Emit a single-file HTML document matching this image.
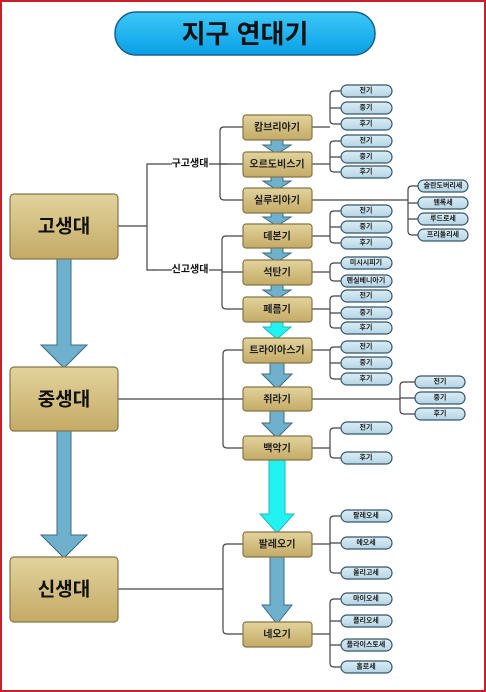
<!DOCTYPE html>
<html><head><meta charset="utf-8"><style>
html,body{margin:0;padding:0;background:#fff}
svg{display:block}
text{font-family:"Liberation Sans","Noto Sans CJK KR",sans-serif;font-weight:bold;text-anchor:middle;dominant-baseline:central}
</style></head><body>
<svg width="486" height="692" viewBox="0 0 486 692" xmlns="http://www.w3.org/2000/svg">
<defs>
<linearGradient id="tan" x1="0" y1="0" x2="0" y2="1"><stop offset="0" stop-color="#e2d39c"/><stop offset="1" stop-color="#c4aa66"/></linearGradient>
<linearGradient id="pill" x1="0" y1="0" x2="0" y2="1"><stop offset="0" stop-color="#dcedf5"/><stop offset="1" stop-color="#b4d4e4"/></linearGradient>
<linearGradient id="title" x1="0" y1="0" x2="0" y2="1"><stop offset="0" stop-color="#3cc8f8"/><stop offset="1" stop-color="#0aa0e6"/></linearGradient>
</defs>
<rect x="1" y="1" width="484" height="690" fill="#fff" stroke="#c8202a" stroke-width="2"/>
<rect x="115" y="12" width="260" height="43" rx="21" fill="url(#title)" stroke="#1a5f8a" stroke-width="1.5"/>
<text x="245" y="34" font-size="26" fill="#111">지구 연대기</text>

<g fill="none" stroke="#444" stroke-width="1.2">
<!-- 고생대 -->
<path d="M118 226H147M154 164H147V270H154M153 164H172M209 164H227"/>
<path d="M153 270H172M209 270H222"/>
<path d="M243 127H224Q220 127 220 131V196Q220 200 224 200H243M220 164H243"/>
<path d="M243 236H226Q222 236 222 240V305Q222 309 226 309H243M222 272H243"/>
<!-- 중생대, 신생대 -->
<path d="M118 399H243M243 350H227Q223 350 223 354V444Q223 448 227 448H243"/>
<path d="M118 589H223M243 544H227Q223 544 223 548V630Q223 634 227 634H243"/>
<!-- period children -->
<path d="M312 127H330M341 91H334Q330 91 330 95V120Q330 124 334 124H341M330 108H341"/>
<path d="M312 164H330M341 141H334Q330 141 330 145V168Q330 172 334 172H341M330 157H341"/>
<path d="M312 200H408M418 186H412Q408 186 408 190V231Q408 235 412 235H418M408 203H418M408 219H418"/>
<path d="M312 236H330M341 211H334Q330 211 330 215V239Q330 243 334 243H341M330 227H341"/>
<path d="M312 272H330M341 263H334Q330 263 330 267V277Q330 281 334 281H341"/>
<path d="M312 309H330M341 296H334Q330 296 330 300V324Q330 328 334 328H341M330 313H341"/>
<path d="M312 350H330M341 347H334Q330 347 330 351V375Q330 379 334 379H341M330 363H341"/>
<path d="M312 399H400M415 382H404Q400 382 400 386V410Q400 414 404 414H415M400 398H415"/>
<path d="M312 448H330M341 428H334Q330 428 330 432V454Q330 458 334 458H341"/>
<path d="M312 544H330M341 516H334Q330 516 330 520V569Q330 573 334 573H341M330 543H341"/>
<path d="M312 634H330M341 599H334Q330 599 330 603V663Q330 667 334 667H341M330 621H341M330 645H341"/>
</g>
<text x="190" y="164" font-size="10" font-weight="normal" fill="#111">구고생대</text>
<text x="190" y="270" font-size="10" font-weight="normal" fill="#111">신고생대</text>

<!-- arrows -->
<g stroke="#3d6b82" stroke-width="1" fill="#6fb0cc">
<path d="M57 258H71V345H87L64 368L41 345H57Z"/>
<path d="M57 430H71V535H87L64 558L41 535H57Z"/>
<path d="M271 139H283V145H291L277 154L263 145H271Z"/>
<path d="M271 176H283V181H291L277 190L263 181H271Z"/>
<path d="M271 212H283V217H291L277 226L263 217H271Z"/>
<path d="M271 247H283V253H291L277 262L263 253H271Z"/>
<path d="M271 284H283V290H291L277 299L263 290H271Z"/>
<path d="M270 362H284V374H292L277 389L262 374H270Z"/>
<path d="M270 410H284V423H292L277 438L262 423H270Z"/>
<path d="M270 556H284V605H292L277 624L262 605H270Z"/>
</g>
<g stroke="#22b8b8" stroke-width="1" fill="#22f2f2">
<path d="M271 321H283V327H291L277 339L263 327H271Z"/>
<path d="M269 459H285V514H294L277 533L260 514H269Z"/>
</g>

<!-- era boxes -->
<g fill="url(#tan)" stroke="#857548" stroke-width="1.2">
<rect x="10" y="194" width="108" height="65" rx="4"/>
<rect x="10" y="367" width="108" height="64" rx="4"/>
<rect x="10" y="557" width="108" height="65" rx="4"/>
</g>
<g font-size="19" fill="#111">
<text x="64" y="227">고생대</text>
<text x="64" y="400">중생대</text>
<text x="64" y="590">신생대</text>
</g>

<!-- period boxes -->
<g fill="url(#tan)" stroke="#857548" stroke-width="1.2">
<rect x="243" y="115" width="69" height="25" rx="3"/>
<rect x="243" y="152" width="69" height="25" rx="3"/>
<rect x="243" y="188" width="69" height="25" rx="3"/>
<rect x="243" y="224" width="69" height="24" rx="3"/>
<rect x="243" y="260" width="69" height="25" rx="3"/>
<rect x="243" y="297" width="69" height="25" rx="3"/>
<rect x="243" y="338" width="69" height="25" rx="3"/>
<rect x="243" y="387" width="69" height="24" rx="3"/>
<rect x="243" y="436" width="69" height="24" rx="3"/>
<rect x="243" y="532" width="69" height="25" rx="3"/>
<rect x="243" y="622" width="69" height="25" rx="3"/>
</g>
<g font-size="10" fill="#222">
<text x="277" y="128">캄브리아기</text>
<text x="277" y="165">오르도비스기</text>
<text x="277" y="201">실루리아기</text>
<text x="277" y="237">데본기</text>
<text x="277" y="273">석탄기</text>
<text x="277" y="310">페름기</text>
<text x="277" y="351">트라이아스기</text>
<text x="277" y="400">쥐라기</text>
<text x="277" y="449">백악기</text>
<text x="277" y="545">팔레오기</text>
<text x="277" y="635">네오기</text>
</g>

<!-- pills -->
<g fill="url(#pill)" stroke="#34556a" stroke-width="1.2">
<rect x="341" y="85" width="51" height="12" rx="6"/><rect x="341" y="102" width="51" height="12" rx="6"/><rect x="341" y="118" width="51" height="12" rx="6"/>
<rect x="341" y="135" width="51" height="12" rx="6"/><rect x="341" y="151" width="51" height="12" rx="6"/><rect x="341" y="166" width="51" height="12" rx="6"/>
<rect x="418" y="180" width="50" height="12" rx="6"/><rect x="418" y="197" width="50" height="12" rx="6"/><rect x="418" y="213" width="50" height="12" rx="6"/><rect x="418" y="229" width="50" height="12" rx="6"/>
<rect x="341" y="205" width="51" height="12" rx="6"/><rect x="341" y="221" width="51" height="12" rx="6"/><rect x="341" y="237" width="51" height="12" rx="6"/>
<rect x="341" y="257" width="51" height="12" rx="6"/><rect x="341" y="275" width="51" height="12" rx="6"/>
<rect x="341" y="290" width="51" height="12" rx="6"/><rect x="341" y="307" width="51" height="12" rx="6"/><rect x="341" y="322" width="51" height="12" rx="6"/>
<rect x="341" y="341" width="51" height="12" rx="6"/><rect x="341" y="357" width="51" height="12" rx="6"/><rect x="341" y="373" width="51" height="12" rx="6"/>
<rect x="415" y="376" width="50" height="12" rx="6"/><rect x="415" y="392" width="50" height="12" rx="6"/><rect x="415" y="408" width="50" height="12" rx="6"/>
<rect x="341" y="422" width="51" height="12" rx="6"/><rect x="341" y="452" width="51" height="12" rx="6"/>
<rect x="341" y="510" width="51" height="12" rx="6"/><rect x="341" y="537" width="51" height="12" rx="6"/><rect x="341" y="567" width="51" height="12" rx="6"/>
<rect x="341" y="593" width="51" height="12" rx="6"/><rect x="341" y="615" width="51" height="12" rx="6"/><rect x="341" y="639" width="51" height="12" rx="6"/><rect x="341" y="661" width="51" height="12" rx="6"/>
</g>
<g font-size="7" fill="#222">
<text x="366" y="91">전기</text><text x="366" y="108">중기</text><text x="366" y="124">후기</text>
<text x="366" y="141">전기</text><text x="366" y="157">중기</text><text x="366" y="172">후기</text>
<text x="443" y="186">슬란도버리세</text><text x="443" y="203">웬록세</text><text x="443" y="219">루드로세</text><text x="443" y="235">프리돌리세</text>
<text x="366" y="211">전기</text><text x="366" y="227">중기</text><text x="366" y="243">후기</text>
<text x="366" y="263">미시시피기</text><text x="366" y="281">펜실베니아기</text>
<text x="366" y="296">전기</text><text x="366" y="313">중기</text><text x="366" y="328">후기</text>
<text x="366" y="347">전기</text><text x="366" y="363">중기</text><text x="366" y="379">후기</text>
<text x="440" y="382">전기</text><text x="440" y="398">중기</text><text x="440" y="414">후기</text>
<text x="366" y="428">전기</text><text x="366" y="458">후기</text>
<text x="366" y="516">팔레오세</text><text x="366" y="543">에오세</text><text x="366" y="573">올리고세</text>
<text x="366" y="599">마이오세</text><text x="366" y="621">플리오세</text><text x="366" y="645">플라이스토세</text><text x="366" y="667">홀로세</text>
</g>
</svg>
</body></html>
